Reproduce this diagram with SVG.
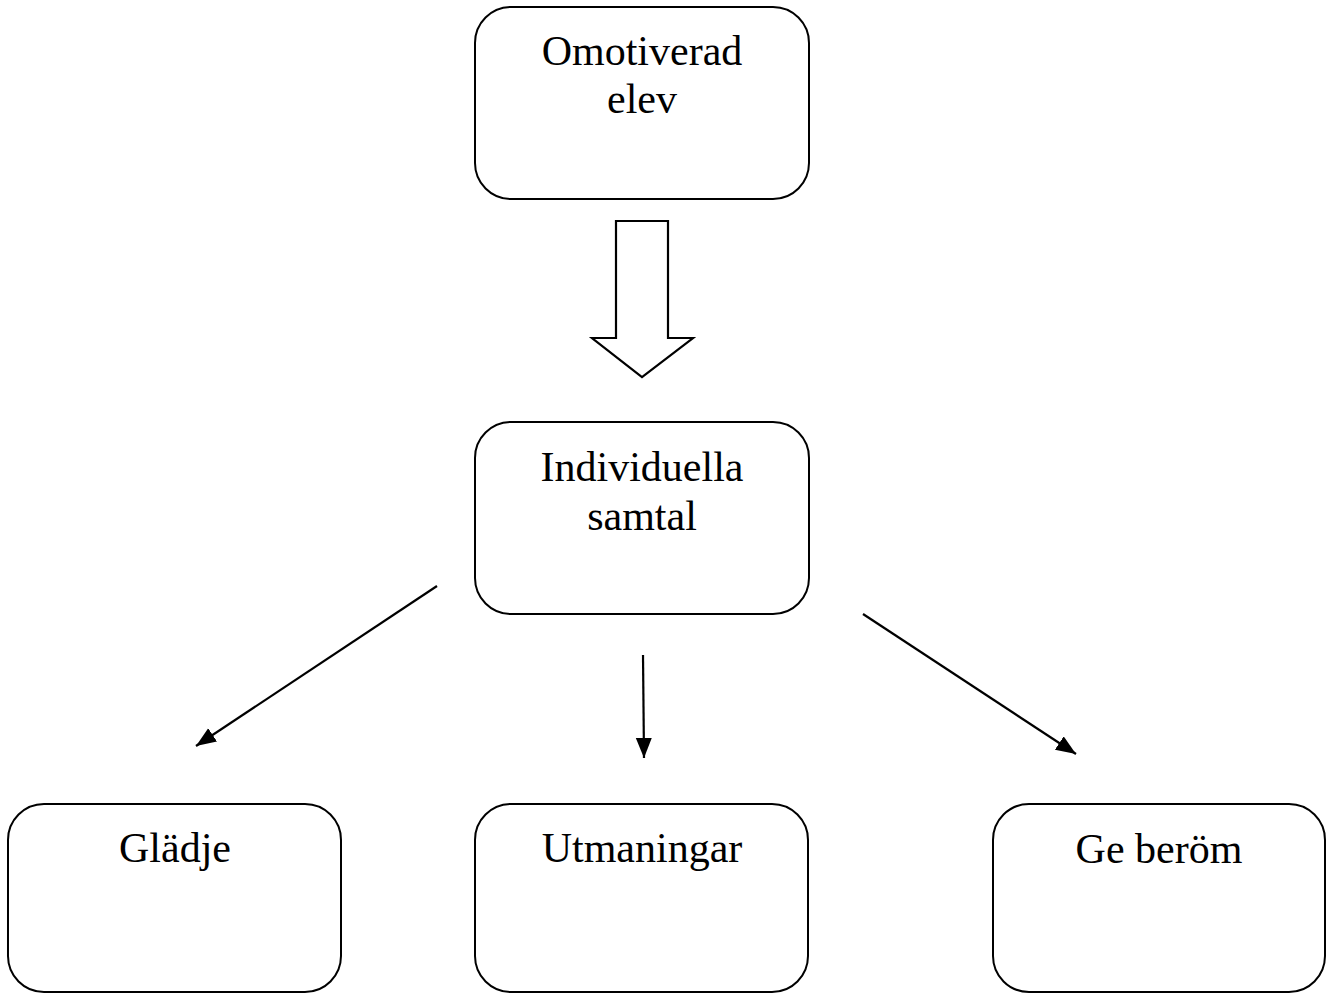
<svg xmlns="http://www.w3.org/2000/svg" width="1336" height="994" viewBox="0 0 1336 994">
<style>
.box{fill:#fff;stroke:#000;stroke-width:2}
.lbl{font-family:"Liberation Serif","Times New Roman",serif;font-size:42px;fill:#000;text-anchor:middle}
.conn{stroke:#000;stroke-width:2.2;fill:none}
</style>
<defs>
<marker id="ah" markerUnits="userSpaceOnUse" markerWidth="22" markerHeight="18" refX="20" refY="8" orient="auto">
<path d="M0,0 L20,8 L0,16 Z" fill="#000"/>
</marker>
</defs>
<rect width="1336" height="994" fill="#fff"/>
<g id="node-omotiverad">
<rect class="box" x="475" y="7" width="334" height="192" rx="36"/>
<text class="lbl" x="642" y="65">Omotiverad</text>
<text class="lbl" x="642" y="113">elev</text>
</g>
<g id="node-individuella">
<rect class="box" x="475" y="422" width="334" height="192" rx="36"/>
<text class="lbl" x="642" y="481">Individuella</text>
<text class="lbl" x="642" y="530">samtal</text>
</g>
<g id="node-gladje">
<rect class="box" x="8" y="804" width="333" height="188" rx="36"/>
<text class="lbl" x="175" y="862">Glädje</text>
</g>
<g id="node-utmaningar">
<rect class="box" x="475" y="804" width="333" height="188" rx="36"/>
<text class="lbl" x="642" y="862">Utmaningar</text>
</g>
<g id="node-gerom">
<rect class="box" x="993" y="804" width="332" height="188" rx="36"/>
<text class="lbl" x="1159" y="863">Ge beröm</text>
</g>
<g id="connectors">
<path class="conn" d="M616,221 L668,221 L668,338 L693,338 L642,377 L592,338 L616,338 Z" style="fill:#fff"/>
<line class="conn" x1="437" y1="586" x2="196" y2="746" marker-end="url(#ah)"/>
<line class="conn" x1="643" y1="655" x2="644" y2="758" marker-end="url(#ah)"/>
<line class="conn" x1="863" y1="614" x2="1076" y2="754" marker-end="url(#ah)"/>
</g>
</svg>
